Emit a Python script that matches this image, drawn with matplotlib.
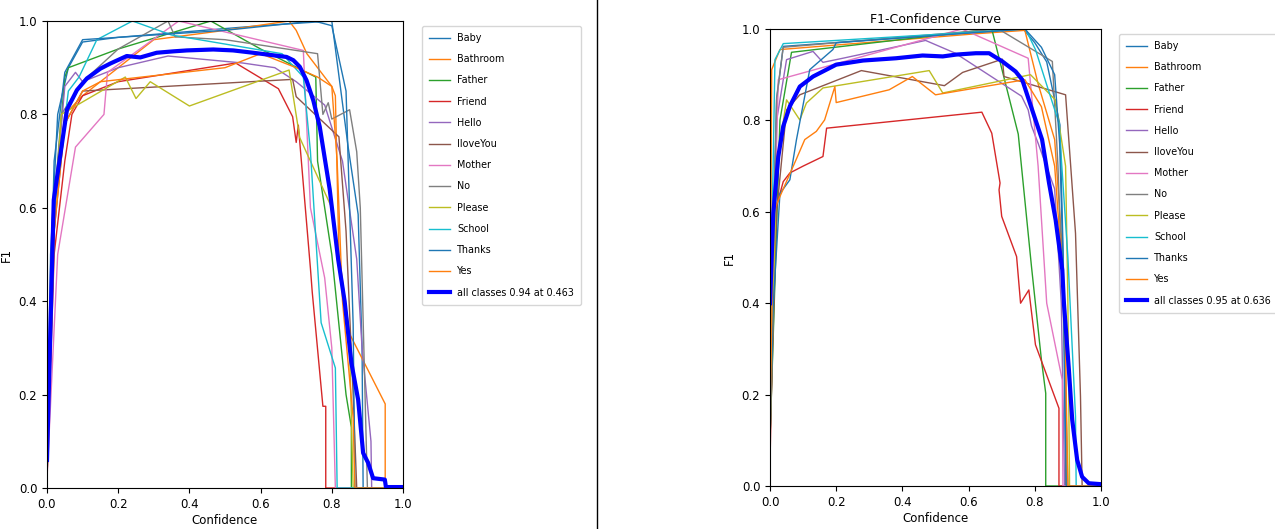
import numpy as np
import matplotlib
matplotlib.use("Agg")
import matplotlib.pyplot as plt
from matplotlib.lines import Line2D

names = ['Baby', 'Bathroom', 'Father', 'Friend', 'Hello', 'IloveYou', 'Mother',
         'No', 'Please', 'School', 'Thanks', 'Yes']

# left run: (confidence, f1) points per class
left_curves = [
    [(0, 0.05), (0.01, 0.5), (0.03, 0.8), (0.06, 0.9), (0.1, 0.955), (0.2, 0.965), (0.6, 0.99), (0.8, 1.0), (0.846, 0.73), (0.874, 0.586), (0.885, 0.3), (0.888, 0.0), (1.0, 0.0)],
    [(0, 0.04), (0.02, 0.6), (0.05, 0.8), (0.1, 0.84), (0.2, 0.9), (0.3, 0.96), (0.5, 0.98), (0.68, 1.0), (0.7, 0.98), (0.73, 0.93), (0.8, 0.86), (0.81, 0.84), (0.82, 0.5), (0.85, 0.33), (0.95, 0.18), (0.95, 0.0), (1.0, 0.0)],
    [(0, 0.05), (0.02, 0.6), (0.05, 0.88), (0.06, 0.9), (0.2, 0.94), (0.46, 1.0), (0.6, 0.94), (0.755, 0.88), (0.76, 0.7), (0.8, 0.5), (0.84, 0.2), (0.855, 0.13), (0.855, 0.0), (1.0, 0.0)],
    [(0, 0.02), (0.02, 0.5), (0.05, 0.7), (0.07, 0.8), (0.1, 0.84), (0.2, 0.87), (0.53, 0.91), (0.65, 0.855), (0.69, 0.795), (0.7, 0.74), (0.706, 0.777), (0.74, 0.47), (0.745, 0.42), (0.775, 0.175), (0.783, 0.175), (0.783, 0.0), (1.0, 0.0)],
    [(0, 0.03), (0.02, 0.6), (0.05, 0.86), (0.08, 0.89), (0.1, 0.87), (0.2, 0.9), (0.34, 0.925), (0.55, 0.91), (0.64, 0.9), (0.7, 0.87), (0.78, 0.82), (0.83, 0.7), (0.87, 0.49), (0.885, 0.3), (0.91, 0.1), (0.912, 0.0), (1.0, 0.0)],
    [(0, 0.02), (0.02, 0.55), (0.05, 0.78), (0.1, 0.85), (0.69, 0.875), (0.7, 0.838), (0.82, 0.752), (0.84, 0.55), (0.86, 0.2), (0.87, 0.0), (1.0, 0.0)],
    [(0, 0.02), (0.03, 0.5), (0.08, 0.73), (0.16, 0.8), (0.17, 0.89), (0.37, 1.0), (0.72, 0.937), (0.74, 0.6), (0.78, 0.45), (0.8, 0.3), (0.81, 0.0), (1.0, 0.0)],
    [(0, 0.02), (0.02, 0.6), (0.04, 0.8), (0.1, 0.87), (0.2, 0.94), (0.34, 1.0), (0.36, 0.966), (0.5, 0.96), (0.76, 0.93), (0.775, 0.8), (0.79, 0.825), (0.8, 0.79), (0.85, 0.81), (0.87, 0.72), (0.88, 0.6), (0.89, 0.3), (0.9, 0.0), (1.0, 0.0)],
    [(0, 0.02), (0.02, 0.55), (0.04, 0.8), (0.22, 0.88), (0.25, 0.834), (0.29, 0.87), (0.4, 0.818), (0.68, 0.895), (0.71, 0.75), (0.74, 0.7), (0.8, 0.6), (0.85, 0.3), (0.86, 0.0), (1.0, 0.0)],
    [(0, 0.03), (0.02, 0.6), (0.06, 0.85), (0.09, 0.88), (0.14, 0.96), (0.24, 1.0), (0.35, 0.97), (0.66, 0.93), (0.72, 0.88), (0.74, 0.72), (0.77, 0.354), (0.81, 0.257), (0.815, 0.0), (1.0, 0.0)],
    [(0, 0.1), (0.02, 0.7), (0.05, 0.89), (0.1, 0.96), (0.2, 0.965), (0.5, 0.98), (0.75, 1.0), (0.8, 0.99), (0.84, 0.85), (0.85, 0.6), (0.86, 0.35), (0.865, 0.0), (1.0, 0.0)],
    [(0, 0.03), (0.02, 0.55), (0.05, 0.78), (0.1, 0.85), (0.15, 0.87), (0.5, 0.9), (0.6, 0.93), (0.7, 0.9), (0.76, 0.88), (0.8, 0.86), (0.815, 0.7), (0.83, 0.4), (0.86, 0.15), (0.865, 0.0), (1.0, 0.0)],
]
left_all = [(0, 0.06), (0.019, 0.617), (0.056, 0.81), (0.084, 0.852), (0.112, 0.877), (0.15, 0.898), (0.178, 0.909),
            (0.224, 0.925), (0.262, 0.922), (0.308, 0.932), (0.355, 0.935), (0.393, 0.937), (0.467, 0.939),
            (0.523, 0.937), (0.579, 0.932), (0.673, 0.923), (0.692, 0.916), (0.71, 0.902), (0.729, 0.873),
            (0.748, 0.83), (0.766, 0.774), (0.794, 0.64), (0.818, 0.489), (0.836, 0.4), (0.855, 0.268),
            (0.874, 0.189), (0.888, 0.075), (0.902, 0.054), (0.916, 0.021), (0.949, 0.018), (0.952, 0.002), (1.0, 0.002)]
left_label = 'all classes 0.94 at 0.463'

# right run
right_curves = [
    [(0, 0.3), (0.02, 0.845), (0.04, 0.962), (0.765, 1.0), (0.8, 0.97), (0.836, 0.928), (0.876, 0.79), (0.886, 0.5), (0.893, 0.0), (1.0, 0.0)],
    [(0, 0.1), (0.005, 0.911), (0.03, 0.955), (0.63, 0.99), (0.77, 0.997), (0.81, 0.88), (0.86, 0.758), (0.88, 0.55), (0.893, 0.3), (0.895, 0.0), (1.0, 0.0)],
    [(0, 0.1), (0.03, 0.8), (0.065, 0.949), (0.67, 1.0), (0.75, 0.77), (0.79, 0.48), (0.82, 0.276), (0.833, 0.203), (0.833, 0.0), (1.0, 0.0)],
    [(0, 0.05), (0.015, 0.6), (0.04, 0.666), (0.06, 0.685), (0.1, 0.7), (0.16, 0.721), (0.171, 0.783), (0.64, 0.818), (0.67, 0.772), (0.695, 0.663), (0.692, 0.648), (0.7, 0.59), (0.745, 0.502), (0.757, 0.4), (0.782, 0.429), (0.802, 0.309), (0.873, 0.17), (0.873, 0.0), (1.0, 0.0)],
    [(0, 0.2), (0.02, 0.8), (0.05, 0.933), (0.13, 0.951), (0.16, 0.927), (0.22, 0.936), (0.47, 0.975), (0.56, 0.947), (0.76, 0.853), (0.78, 0.823), (0.79, 0.788), (0.81, 0.75), (0.86, 0.65), (0.88, 0.4), (0.89, 0.0), (1.0, 0.0)],
    [(0, 0.1), (0.02, 0.6), (0.05, 0.823), (0.09, 0.856), (0.276, 0.909), (0.527, 0.876), (0.582, 0.905), (0.702, 0.934), (0.707, 0.896), (0.893, 0.856), (0.923, 0.553), (0.938, 0.196), (0.943, 0.0), (1.0, 0.0)],
    [(0, 0.2), (0.025, 0.889), (0.58, 1.0), (0.78, 0.936), (0.81, 0.7), (0.836, 0.4), (0.883, 0.232), (0.885, 0.0), (1.0, 0.0)],
    [(0, 0.2), (0.02, 0.85), (0.04, 0.96), (0.69, 1.0), (0.853, 0.929), (0.87, 0.7), (0.89, 0.3), (0.9, 0.0), (1.0, 0.0)],
    [(0, 0.1), (0.02, 0.7), (0.05, 0.845), (0.09, 0.801), (0.11, 0.838), (0.16, 0.871), (0.481, 0.909), (0.522, 0.86), (0.787, 0.9), (0.862, 0.845), (0.893, 0.7), (0.9, 0.4), (0.905, 0.0), (1.0, 0.0)],
    [(0, 0.3), (0.015, 0.933), (0.04, 0.968), (0.772, 1.0), (0.802, 0.955), (0.873, 0.794), (0.9, 0.5), (0.923, 0.152), (0.925, 0.0), (1.0, 0.0)],
    [(0, 0.1), (0.01, 0.4), (0.03, 0.64), (0.06, 0.67), (0.08, 0.758), (0.105, 0.853), (0.12, 0.911), (0.19, 0.955), (0.2, 0.97), (0.77, 1.0), (0.82, 0.96), (0.86, 0.9), (0.875, 0.75), (0.885, 0.5), (0.895, 0.0), (1.0, 0.0)],
    [(0, 0.1), (0.01, 0.6), (0.04, 0.65), (0.08, 0.716), (0.105, 0.758), (0.14, 0.776), (0.165, 0.801), (0.196, 0.874), (0.2, 0.839), (0.36, 0.867), (0.43, 0.896), (0.5, 0.856), (0.77, 0.889), (0.82, 0.83), (0.86, 0.7), (0.89, 0.4), (0.9, 0.0), (1.0, 0.0)],
]
right_all = [(0, 0.4), (0.01, 0.597), (0.025, 0.721), (0.04, 0.787), (0.06, 0.831), (0.09, 0.874), (0.13, 0.896),
             (0.2, 0.922), (0.281, 0.931), (0.381, 0.936), (0.461, 0.942), (0.522, 0.94), (0.562, 0.944),
             (0.622, 0.947), (0.662, 0.947), (0.702, 0.929), (0.742, 0.907), (0.762, 0.889), (0.792, 0.823),
             (0.822, 0.758), (0.843, 0.663), (0.863, 0.582), (0.883, 0.473), (0.888, 0.4), (0.903, 0.254),
             (0.913, 0.145), (0.928, 0.057), (0.943, 0.02), (0.963, 0.006), (1.0, 0.004)]
right_label = 'all classes 0.95 at 0.636'

fig = plt.figure(figsize=(12.75, 5.29), dpi=100)


def draw(ax, curves, all_curve, all_label, title=None):
    for name, pts in zip(names, curves):
        pts = np.array(pts)
        ax.plot(pts[:, 0], pts[:, 1], linewidth=1, label=name)
    pts = np.array(all_curve)
    ax.plot(pts[:, 0], pts[:, 1], linewidth=3, color='blue', label=all_label)
    ax.set_xlim(0, 1)
    ax.set_ylim(0, 1)
    ax.set_xlabel('Confidence', fontsize=8.5, labelpad=2)
    ax.set_ylabel('F1', fontsize=8.5)
    ax.tick_params(labelsize=8.5)
    if title:
        ax.set_title(title, fontsize=9, pad=4)
    ax.legend(bbox_to_anchor=(1.04, 1.0), loc='upper left', fontsize=6.9,
              labelspacing=1.17, handlelength=2.2, handletextpad=0.7, borderpad=0.75)


ax1 = fig.add_axes([47 / 1275, 41 / 529, 356 / 1275, 467 / 529])
draw(ax1, left_curves, left_all, left_label)

ax2 = fig.add_axes([770 / 1275, 43 / 529, 331 / 1275, 457 / 529])
draw(ax2, right_curves, right_all, right_label, title='F1-Confidence Curve')

fig.add_artist(Line2D([597 / 1275, 597 / 1275], [0, 1], color='black', linewidth=1))

fig.savefig('out.png', dpi=100)
